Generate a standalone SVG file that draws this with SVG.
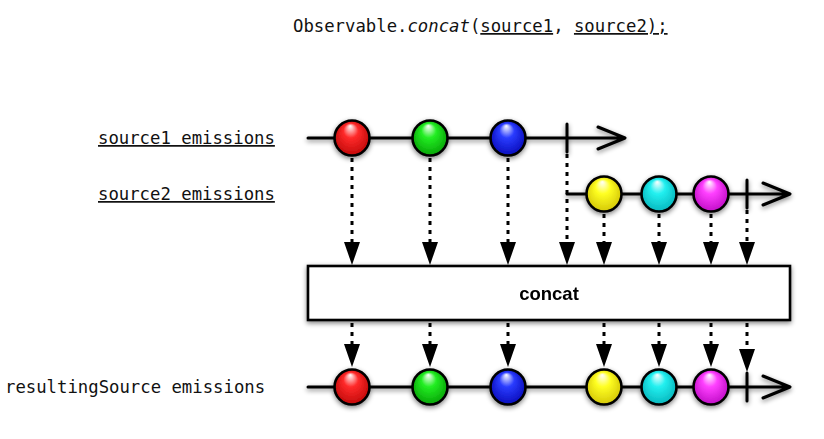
<svg xmlns="http://www.w3.org/2000/svg" width="824" height="439" viewBox="0 0 824 439">
<style>
.mono{font-family:"DejaVu Sans Mono","Liberation Mono",monospace;font-size:17.3px;fill:#111}
.u{text-decoration:underline}
.tl{stroke:#000;stroke-width:3;fill:none;stroke-linecap:round;stroke-linejoin:round}
.mb{stroke:#000;stroke-width:2.6}
.dot{stroke:#000;stroke-width:3;stroke-dasharray:4 5;fill:none}
.box{fill:#fff;stroke:#000;stroke-width:2.6}
.lbl{font-family:"Liberation Sans",Arial,sans-serif;font-weight:bold;font-size:18.5px;fill:#000}
</style>
<defs>
<filter id="sh" x="-30%" y="-30%" width="160%" height="170%">
<feGaussianBlur in="SourceAlpha" stdDeviation="2.5"/>
<feOffset dy="2" result="b"/>
<feComponentTransfer><feFuncA type="linear" slope="0.5"/></feComponentTransfer>
<feMerge><feMergeNode/><feMergeNode in="SourceGraphic"/></feMerge>
</filter>
<radialGradient id="gR" cx="0.5" cy="0.55" r="0.6" fx="0.45" fy="0.15"><stop offset="0" stop-color="#fff"/><stop offset="0.35" stop-color="#ff2a2a"/><stop offset="1" stop-color="#b00000"/></radialGradient>
<radialGradient id="gG" cx="0.5" cy="0.55" r="0.6" fx="0.45" fy="0.15"><stop offset="0" stop-color="#fff"/><stop offset="0.35" stop-color="#22ee22"/><stop offset="1" stop-color="#009000"/></radialGradient>
<radialGradient id="gB" cx="0.5" cy="0.55" r="0.6" fx="0.45" fy="0.15"><stop offset="0" stop-color="#fff"/><stop offset="0.35" stop-color="#2a3cff"/><stop offset="1" stop-color="#0000a8"/></radialGradient>
<radialGradient id="gY" cx="0.5" cy="0.55" r="0.6" fx="0.45" fy="0.15"><stop offset="0" stop-color="#fff"/><stop offset="0.35" stop-color="#ffff22"/><stop offset="1" stop-color="#c8b800"/></radialGradient>
<radialGradient id="gC" cx="0.5" cy="0.55" r="0.6" fx="0.45" fy="0.15"><stop offset="0" stop-color="#fff"/><stop offset="0.35" stop-color="#22f0f0"/><stop offset="1" stop-color="#00a8b0"/></radialGradient>
<radialGradient id="gM" cx="0.5" cy="0.55" r="0.6" fx="0.45" fy="0.15"><stop offset="0" stop-color="#fff"/><stop offset="0.35" stop-color="#ff40ff"/><stop offset="1" stop-color="#b000b8"/></radialGradient>
<marker id="ah" viewBox="0 0 23 16" refX="0" refY="8" markerWidth="23" markerHeight="16" markerUnits="userSpaceOnUse" orient="auto">
<path d="M0,0 L23,8 L0,16 Z" fill="#000"/>
</marker>
</defs>

<g id="title">
<text class="mono" x="293" y="32">Observable.<tspan font-style="italic">concat</tspan>(<tspan class="u">source1</tspan>, <tspan class="u">source2);</tspan></text>
</g>

<g id="labels">
<text id="label-source1" class="mono u" x="98" y="144">source1 emissions</text>
<text id="label-source2" class="mono u" x="98" y="200">source2 emissions</text>
<text id="label-result" class="mono" x="5" y="393">resultingSource emissions</text>
</g>

<g id="connectors">
<path class="dot" d="M352,158 V242" marker-end="url(#ah)"/>
<path class="dot" d="M430,158 V242" marker-end="url(#ah)"/>
<path class="dot" d="M508,158 V242" marker-end="url(#ah)"/>
<path class="dot" d="M567,154 V242" marker-end="url(#ah)"/>
<path class="dot" d="M604,214 V242" marker-end="url(#ah)"/>
<path class="dot" d="M659,214 V242" marker-end="url(#ah)"/>
<path class="dot" d="M711,214 V242" marker-end="url(#ah)"/>
<path class="dot" d="M747,210 V242" marker-end="url(#ah)"/>
<path class="dot" d="M352,323 V344" marker-end="url(#ah)"/>
<path class="dot" d="M430,323 V344" marker-end="url(#ah)"/>
<path class="dot" d="M508,323 V344" marker-end="url(#ah)"/>
<path class="dot" d="M604,323 V344" marker-end="url(#ah)"/>
<path class="dot" d="M659,323 V344" marker-end="url(#ah)"/>
<path class="dot" d="M711,323 V344" marker-end="url(#ah)"/>
<path class="dot" d="M747,323 V349" marker-end="url(#ah)"/>
</g>

<g id="source1" filter="url(#sh)">
<path class="tl" d="M308,138 H624 M598,127 L625,138 L598,149 M567,124 V152"/>
<circle class="mb" cx="352" cy="138" r="17.5" fill="url(#gR)"/>
<circle class="mb" cx="430" cy="138" r="17.5" fill="url(#gG)"/>
<circle class="mb" cx="508" cy="138" r="17.5" fill="url(#gB)"/>
</g>

<g id="source2" filter="url(#sh)">
<path class="tl" d="M567,194 H789 M763,183 L790,194 L763,205 M747,180 V208"/>
<circle class="mb" cx="604" cy="194" r="17.5" fill="url(#gY)"/>
<circle class="mb" cx="659" cy="194" r="17.5" fill="url(#gC)"/>
<circle class="mb" cx="711" cy="194" r="17.5" fill="url(#gM)"/>
</g>

<g id="concat" filter="url(#sh)">
<rect class="box" x="308" y="266" width="482" height="54"/>
<text class="lbl" x="549" y="300" text-anchor="middle">concat</text>
</g>

<g id="result" filter="url(#sh)">
<path class="tl" d="M308,387 H789 M763,376 L790,387 L763,398 M747,373 V401"/>
<circle class="mb" cx="352" cy="387" r="17.5" fill="url(#gR)"/>
<circle class="mb" cx="430" cy="387" r="17.5" fill="url(#gG)"/>
<circle class="mb" cx="508" cy="387" r="17.5" fill="url(#gB)"/>
<circle class="mb" cx="604" cy="387" r="17.5" fill="url(#gY)"/>
<circle class="mb" cx="659" cy="387" r="17.5" fill="url(#gC)"/>
<circle class="mb" cx="711" cy="387" r="17.5" fill="url(#gM)"/>
</g>
</svg>
